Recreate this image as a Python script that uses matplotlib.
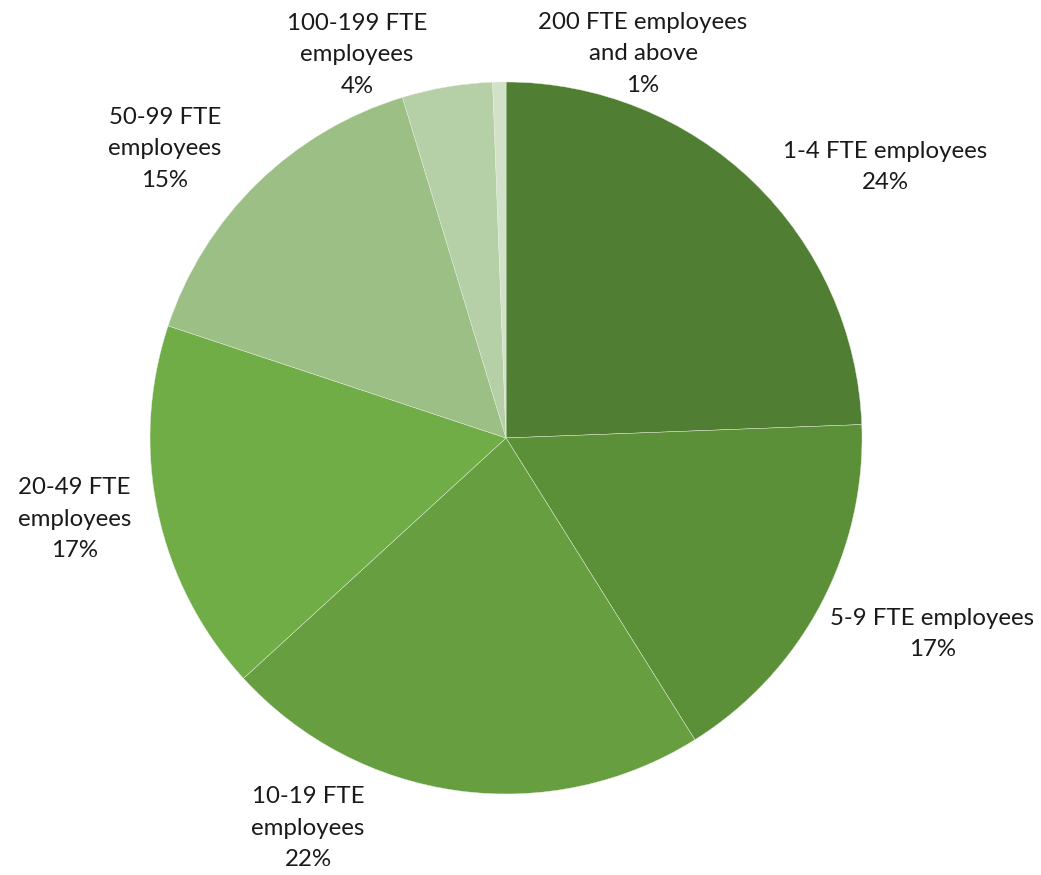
import matplotlib
matplotlib.use("Agg")
import matplotlib.pyplot as plt

categories = [
    "1-4 FTE employees",
    "5-9 FTE employees",
    "10-19 FTE\nemployees",
    "20-49 FTE\nemployees",
    "50-99 FTE\nemployees",
    "100-199 FTE\nemployees",
    "200 FTE employees\nand above",
]
shares = [24.4, 16.7, 22.1, 16.9, 15.2, 4.1, 0.6]
colors = ["#507E32", "#5C9038", "#679F40", "#70AD47", "#9BBF85", "#B5CFA6", "#D2E2C9"]

# label anchor positions, in pie radii from the centre
label_pos = [
    (1.065, 0.761),
    (1.197, -0.551),
    (-0.556, -1.096),
    (-1.213, -0.228),
    (-0.958, 0.812),
    (-0.419, 1.076),
    (0.385, 1.079),
]

fig = plt.figure(figsize=(10.41, 8.75), dpi=100)
ax = fig.add_axes([0.1441, 0.0926, 0.684, 0.8137])

ax.pie(
    shares,
    colors=colors,
    startangle=90,
    counterclock=False,
    radius=1,
    wedgeprops=dict(edgecolor="#e8efe2", linewidth=0.3),
)
ax.set_xlim(-1, 1)
ax.set_ylim(-1, 1)
ax.set_aspect("equal")

for cat, val, (x, y) in zip(categories, shares, label_pos):
    ax.text(
        x, y, f"{cat}\n{round(val):d}%",
        ha="center", va="center", fontsize=17.3, family="Lato",
        color="#1a1a1a", linespacing=1.6, clip_on=False,
    )

fig.savefig("out.png", dpi=100, facecolor="white")
